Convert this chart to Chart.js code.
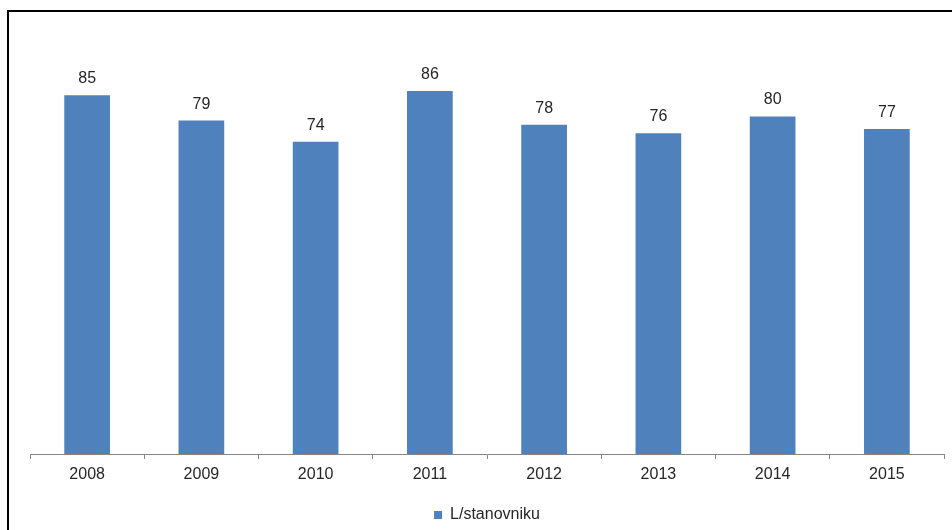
<!DOCTYPE html>
<html>
<head>
<meta charset="utf-8">
<script src="https://cdn.jsdelivr.net/npm/chart.js@4/dist/chart.umd.min.js"></script>
<style>
html,body{margin:0;padding:0;background:#fff;}
#wrap{width:952px;height:530px;}
</style>
</head>
<body>
<div id="wrap"><canvas id="c" width="952" height="530"></canvas></div>
<script>
const categories = ['2008','2009','2010','2011','2012','2013','2014','2015'];
const values = [85, 79, 74, 86, 78, 76, 80, 77];
const seriesName = 'L/stanovniku';

const FONT = '"Liberation Sans", Arial, sans-serif';

const framePlugin = {
  id: 'frame',
  beforeDraw(chart) {
    const ctx = chart.ctx;
    ctx.save();
    ctx.fillStyle = '#fff';
    ctx.fillRect(0, 0, chart.width, chart.height);
    ctx.strokeStyle = '#000';
    ctx.lineWidth = 2;
    ctx.strokeRect(8, 11, chart.width + 20, chart.height + 20);
    ctx.restore();
  }
};

const labelPlugin = {
  id: 'valueLabels',
  afterDatasetsDraw(chart) {
    const ctx = chart.ctx;
    const meta = chart.getDatasetMeta(0);
    ctx.save();
    ctx.fillStyle = '#262626';
    ctx.font = '16px ' + FONT;
    ctx.textAlign = 'center';
    ctx.textBaseline = 'alphabetic';
    meta.data.forEach((bar, i) => {
      ctx.fillText(String(chart.data.datasets[0].data[i]), bar.x, bar.y - 12);
    });
    ctx.restore();
  }
};

new Chart(document.getElementById('c'), {
  type: 'bar',
  data: {
    labels: categories,
    datasets: [{
      label: seriesName,
      data: values,
      backgroundColor: '#4F81BD',
      borderWidth: 0,
      categoryPercentage: 1.0,
      barPercentage: 0.4
    }]
  },
  options: {
    responsive: false,
    animation: false,
    devicePixelRatio: 1,
    layout: { padding: { left: 30, right: 8, top: 32, bottom: -3 } },
    plugins: {
      legend: {
        position: 'bottom',
        labels: {
          boxWidth: 8,
          boxHeight: 8,
          padding: 6,
          color: '#262626',
          font: { family: FONT, size: 16 }
        }
      },
      tooltip: { enabled: false }
    },
    scales: {
      x: {
        afterFit(scale) { scale.height = 47; },
        grid: {
          display: true,
          offset: true,
          drawOnChartArea: false,
          drawTicks: true,
          tickLength: 5,
          color: '#868686'
        },
        border: { display: true, color: '#868686', width: 1 },
        ticks: {
          color: '#262626',
          padding: 6,
          font: { family: FONT, size: 16 }
        }
      },
      y: {
        display: false,
        min: 0,
        max: 100
      }
    }
  },
  plugins: [framePlugin, labelPlugin]
});
</script>
</body>
</html>
